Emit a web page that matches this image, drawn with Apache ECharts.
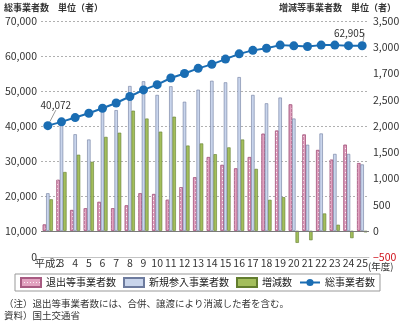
<!DOCTYPE html>
<html><head><meta charset="utf-8">
<script src="https://cdn.jsdelivr.net/npm/echarts@6/dist/echarts.min.js"></script>
<style>html,body{margin:0;padding:0;background:#fff}#c{width:399px;height:326px}</style>
</head><body><div id="c"></div>
<script>
// ---- data ----
const categories = ['平成2','3','4','5','6','7','8','9','10','11','12','13','14','15','16','17','18','19','20','21','22','23','24','25'];
const exitCounts  = [120, 970, 395, 430, 550, 430, 485, 715, 700, 590, 830, 1020, 1405, 1255, 1190, 1405, 1850, 1910, 2410, 1835, 1540, 1355, 1640, 1290];
const entryCounts = [715, 2060, 1840, 1740, 2315, 2300, 2760, 2850, 2590, 2755, 2460, 2690, 2860, 2830, 2930, 2590, 2430, 2540, 2140, 1640, 1855, 1465, 1465, 1265];
const netChange   = [600, 1120, 1450, 1315, 1790, 1870, 2290, 2140, 1890, 2175, 1625, 1665, 1460, 1590, 1740, 1180, 590, 640, -230, -180, 330, 115, -140, -30];
const totalCounts = [40072, 41150, 42380, 43600, 45050, 46550, 48400, 50300, 51800, 53700, 55000, 56450, 57600, 59100, 60600, 61600, 62200, 63100, 62900, 62700, 63100, 63100, 62950, 62905];
const leftTickValues  = [10000, 20000, 30000, 40000, 50000, 60000, 70000];
const leftTickLabels  = ['10,000','20,000','30,000','40,000','50,000','60,000','70,000'];
const leftZeroLabel   = '0';
const rightTickLabels = ['−500','0','500','1,000','1,500','2,000','2,500','1,700','3,000','3,500'];
const gridValues = [20000, 30000, 40000, 50000, 60000, 70000];
const seriesNames = ['退出等事業者数','新規参入事業者数','増減数','総事業者数'];

// ---- axis config ----
const LEFT_MIN = 2500, LEFT_MAX = 70000;
const RIGHT_MIN = -500, RIGHT_MAX = 4000, RIGHT_STEP = 500;
const FONT = '"Noto Sans CJK JP", "Noto Sans", sans-serif';

const chart = echarts.init(document.getElementById('c'), null, {renderer: 'canvas'});
const lastIdx = totalCounts.length - 1;

chart.setOption({
  animation: false,
  textStyle: {fontFamily: FONT},
  grid: {left: 41, right: 30, top: 21, bottom: 69, outerBoundsMode: 'none'},
  legend: {
    left: 15, top: 274, padding: [3, 5],
    itemWidth: 20, itemHeight: 9, itemGap: 7,
    borderColor: '#999', borderWidth: 1,
    textStyle: {fontSize: 10, color: '#222', fontFamily: FONT},
    data: [
      {name: seriesNames[0], icon: 'rect'},
      {name: seriesNames[1], icon: 'rect'},
      {name: seriesNames[2], icon: 'rect'},
      {name: seriesNames[3]}
    ]
  },
  xAxis: {
    type: 'category', data: categories, boundaryGap: true, position: 'bottom',
    axisLine: {show: true, onZero: false, lineStyle: {color: '#c4c4c4', width: 1}},
    axisTick: {show: false},
    axisLabel: {margin: 1, fontSize: 10.5, color: '#333', interval: 0}
  },
  yAxis: [
    {
      type: 'value', position: 'left', min: LEFT_MIN, max: LEFT_MAX,
      axisLine: {show: false}, axisTick: {show: false}, splitLine: {show: false},
      axisLabel: {
        customValues: [LEFT_MIN].concat(leftTickValues),
        margin: 4, fontSize: 10.5, color: '#333',
        formatter: function (v) {
          if (v === LEFT_MIN) return leftZeroLabel;
          const i = leftTickValues.indexOf(v);
          return i >= 0 ? leftTickLabels[i] : '';
        }
      }
    },
    {
      type: 'value', position: 'right', min: RIGHT_MIN, max: RIGHT_MAX, interval: RIGHT_STEP,
      axisLine: {show: false}, axisTick: {show: false}, splitLine: {show: false},
      axisLabel: {
        margin: 4, fontSize: 10.5,
        color: function (v) { return v < 0 ? '#d0101a' : '#333'; },
        formatter: function (v) {
          const i = Math.round((v - RIGHT_MIN) / RIGHT_STEP);
          return rightTickLabels[i] || '';
        }
      }
    }
  ],
  series: [
    {
      name: seriesNames[0], type: 'bar', yAxisIndex: 1, data: exitCounts,
      barGap: '0%', barCategoryGap: '26%', z: 2,
      itemStyle: {
        color: '#e2a2c0', borderColor: '#a85b82', borderWidth: 0.6,
        decal: {symbol: 'rect', symbolSize: 1, dashArrayX: [1, 2], dashArrayY: [1, 3], color: 'rgba(255,255,255,0.85)', rotation: 0}
      }
    },
    {
      name: seriesNames[1], type: 'bar', yAxisIndex: 1, data: entryCounts, z: 2,
      itemStyle: {color: '#c9d5ec', borderColor: '#6d7b9e', borderWidth: 0.6}
    },
    {
      name: seriesNames[2], type: 'bar', yAxisIndex: 1, data: netChange, z: 2,
      itemStyle: {color: '#a3be5c', borderColor: '#627d2e', borderWidth: 0.6},
      markLine: {
        silent: true, symbol: 'none', z: 3, label: {show: false},
        lineStyle: {color: '#7a7a7a', type: 'solid', width: 1},
        data: [{yAxis: 0}]
      }
    },
    {
      name: seriesNames[3], type: 'line', yAxisIndex: 0, z: 10,
      data: totalCounts.map(function (v, i) {
        return (i === 0 || i === lastIdx) ? {value: v, label: {show: true}} : v;
      }),
      symbol: 'circle', symbolSize: 9,
      lineStyle: {color: '#1a6db3', width: 2},
      itemStyle: {color: '#1a6db3'},
      label: {
        show: false, position: 'top', fontSize: 10, color: '#333',
        formatter: function (p) { return p.value.toLocaleString('en-US'); }
      },
      labelLine: {show: true, lineStyle: {color: '#555', width: 0.6}},
      labelLayout: function (p) {
        if (p.dataIndex === 0) return {dx: 8, dy: -6};
        if (p.dataIndex === lastIdx) return {dx: -13, dy: 2};
        return {};
      },
      markLine: {
        silent: true, symbol: 'none', z: 1, label: {show: false},
        lineStyle: {color: '#b0b0b0', type: [2, 2], width: 1},
        data: gridValues.map(function (v) { return {yAxis: v}; })
      }
    }
  ],
  graphic: [
    {type: 'text', left: 4, top: 3, style: {text: '総事業者数　単位（者）', font: 'bold 9px ' + FONT, fill: '#333'}},
    {type: 'text', right: 3, top: 3, style: {text: '増減等事業者数　単位（者）', font: 'bold 9px ' + FONT, fill: '#333'}},
    {type: 'text', left: 368, top: 262, style: {text: '(年度)', font: '9.5px ' + FONT, fill: '#333'}},
    {type: 'text', left: 4, top: 299, style: {text: '（注）退出等事業者数には、合併、譲渡により消滅した者を含む。', font: '9.5px ' + FONT, fill: '#333'}},
    {type: 'text', left: 4, top: 311, style: {text: '資料）国土交通省', font: '9.5px ' + FONT, fill: '#333'}}
  ]
});
</script></body></html>
